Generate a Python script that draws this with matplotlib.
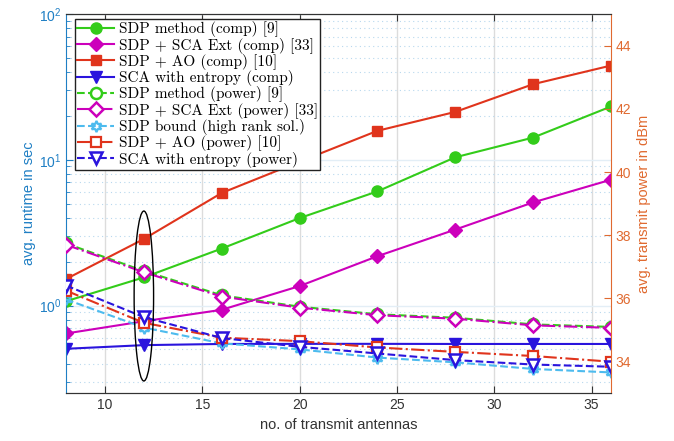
import matplotlib
matplotlib.use("Agg")
import matplotlib.pyplot as plt
import matplotlib.transforms as mtransforms
from matplotlib.patches import Ellipse

# ---------------- data ----------------
antennas = [8, 12, 16, 20, 24, 28, 32, 36]

# runtime (left axis, seconds)
sdp_comp = [1.07, 1.56, 2.46, 3.98, 6.07, 10.4, 14.2, 23.2]
sca_ext_comp = [0.643, 0.78, 0.935, 1.36, 2.18, 3.32, 5.1, 7.3]
ao_comp = [1.52, 2.86, 5.92, 9.7, 15.8, 21.3, 33.0, 44.3]
ent_comp = [0.505, 0.535, 0.545, 0.546, 0.546, 0.545, 0.545, 0.545]

# transmit power (right axis, dBm)
sdp_pow = [37.74, 36.87, 36.10, 35.74, 35.50, 35.39, 35.18, 35.10]
sca_ext_pow = [37.70, 36.83, 36.06, 35.71, 35.47, 35.36, 35.15, 35.07]
bound_pow = [35.97, 35.08, 34.58, 34.39, 34.13, 33.98, 33.77, 33.66]
ao_pow = [36.25, 35.23, 34.76, 34.65, 34.45, 34.31, 34.18, 34.00]
ent_pow = [36.41, 35.41, 34.75, 34.47, 34.26, 34.05, 33.91, 33.84]

labels = [
    "SDP method (comp) [9]",
    "SDP + SCA Ext (comp) [33]",
    "SDP + AO (comp) [10]",
    "SCA with entropy (comp)",
    "SDP method (power) [9]",
    "SDP + SCA Ext (power) [33]",
    "SDP bound (high rank sol.)",
    "SDP + AO (power) [10]",
    "SCA with entropy (power)",
]
x_ticks = [10, 15, 20, 25, 30, 35]
right_ticks = [34, 36, 38, 40, 42, 44]

# ---------------- style ----------------
GREEN = "#33cc1a"
MAGENTA = "#cc00bb"
RED = "#e0341c"
BLUE = "#2a14dd"
CYAN = "#4dbbee"
LEFT_C = "#1f7fc4"
RIGHT_C = "#e06a30"

plt.rcParams["font.family"] = ["Liberation Sans", "DejaVu Sans"]

fig = plt.figure(figsize=(6.74, 4.41), dpi=100)
ax = fig.add_axes([66 / 674, 1 - 393.3 / 441, (611 - 66) / 674, (393.3 - 14) / 441])
ax2 = ax.twinx()

lw = 1.5
ms = 8
hexagram = (6, 1, 0)

h = []
h += ax.plot(antennas, sdp_comp, "-", color=GREEN, lw=lw, marker="o", ms=ms, label=labels[0])
h += ax.plot(antennas, sca_ext_comp, "-", color=MAGENTA, lw=lw, marker="D", ms=7.5, label=labels[1])
h += ax.plot(antennas, ao_comp, "-", color=RED, lw=lw, marker="s", ms=7.5, label=labels[2])
h += ax.plot(antennas, ent_comp, "-", color=BLUE, lw=lw, marker="v", ms=ms + 1, label=labels[3])

h += ax2.plot(antennas, sdp_pow, "--", color=GREEN, lw=lw, marker="o", ms=ms, mfc="white", mew=1.8, label=labels[4])
h += ax2.plot(antennas, sca_ext_pow, "-.", color=MAGENTA, lw=lw, marker="D", ms=7.5, mfc="white", mew=1.8, label=labels[5])
h += ax2.plot(antennas, bound_pow, "--", color=CYAN, lw=lw, marker=hexagram, ms=ms, mfc="none", mew=1.6, label=labels[6])
h += ax2.plot(antennas, ao_pow, "-.", color=RED, lw=lw, marker="s", ms=7.5, mfc="white", mew=1.6, label=labels[7])
h += ax2.plot(antennas, ent_pow, "--", color=BLUE, lw=lw, marker="v", ms=ms + 1, mfc="white", mew=1.8, label=labels[8])

# axes
ax.set_yscale("log")
ax.set_xlim(8, 36)
ax.set_ylim(0.25, 100)
ax2.set_ylim(33, 45)
ax.set_xticks(x_ticks)
ax2.set_yticks(right_ticks)

ax.grid(True, which="major", axis="x", color="#dcdcdc", lw=1.0)
ax.grid(True, which="major", axis="y", color="#e3eef6", lw=1.0)
ax.grid(True, which="minor", axis="y", color="#b8d8ee", lw=0.8, ls=(0, (1, 3)))
ax.set_axisbelow(True)

ax.tick_params(axis="both", which="both", direction="in", top=True)
ax.tick_params(axis="x", labelsize=10, colors="#333333", length=5)
ax.tick_params(axis="y", which="major", labelsize=10, colors=LEFT_C, length=5)
ax.tick_params(axis="y", which="minor", colors=LEFT_C, length=3)
ax2.tick_params(axis="y", direction="in", labelsize=10, colors=RIGHT_C, length=5)

ax.spines["left"].set_color(LEFT_C)
ax.spines["right"].set_visible(False)
ax2.spines["left"].set_visible(False)
ax2.spines["right"].set_color(RIGHT_C)
for a in (ax, ax2):
    a.spines["top"].set_color("#333333")
    a.spines["bottom"].set_color("#333333")

ax.set_xlabel("no. of transmit antennas", fontsize=10.5, color="#333333", labelpad=4)
ax.set_ylabel("avg. runtime in sec", fontsize=10.5, color=LEFT_C, labelpad=2)
ax2.set_ylabel("avg. transmit power in dBm", fontsize=10.5, color=RIGHT_C, labelpad=4)

# ellipse highlighting 12 antennas
trans = mtransforms.blended_transform_factory(ax.transData, ax.transAxes)
ax2.add_patch(Ellipse((antennas[1], 0.2565), width=1.0, height=0.448, transform=trans,
                      fill=False, ec="black", lw=1.0, zorder=5))

leg = ax2.legend(h, labels, loc="upper left", bbox_to_anchor=(0.0165, 0.987),
                 borderaxespad=0.0,
                 prop={"family": "cmr10", "size": 11}, handlelength=2.4,
                 labelspacing=0.02, borderpad=0.15, handletextpad=0.3,
                 framealpha=1, fancybox=False, edgecolor="#222222")
leg.get_frame().set_linewidth(1.0)

fig.savefig("out.png", dpi=100)
